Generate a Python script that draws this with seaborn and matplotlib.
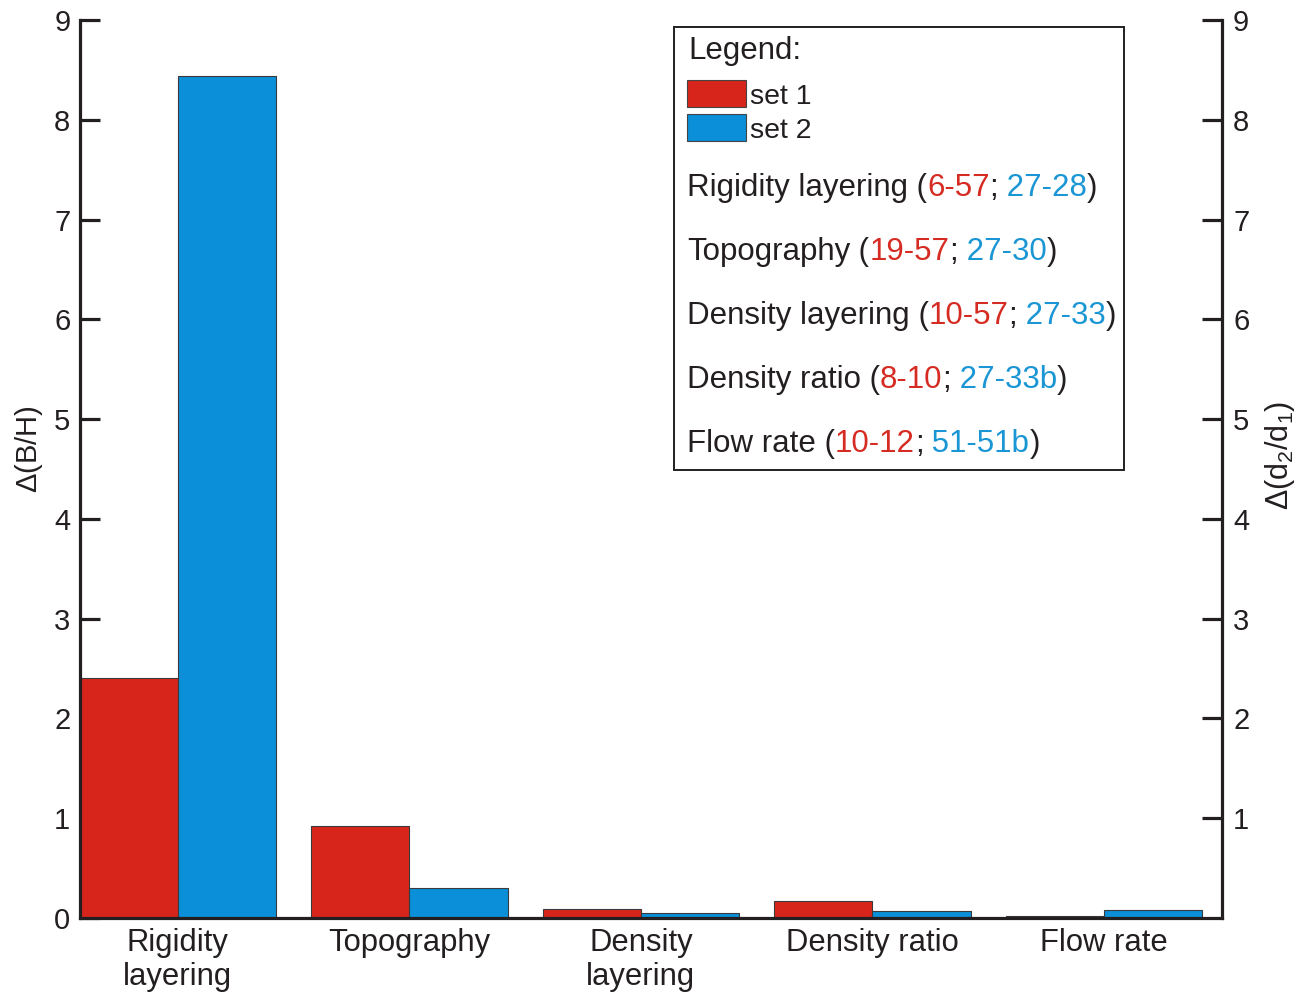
import numpy as np
import pandas as pd
import seaborn as sns
import matplotlib
matplotlib.use("Agg")
import matplotlib.pyplot as plt
from matplotlib.patches import Rectangle

# ---- data -------------------------------------------------------------
categories = ["Rigidity\nlayering", "Topography", "Density\nlayering",
              "Density ratio", "Flow rate"]
series_names = ["set 1", "set 2"]
set1_values = [2.41, 0.92, 0.09, 0.17, 0.02]
set2_values = [8.44, 0.30, 0.05, 0.07, 0.08]
left_ticks = [0, 1, 2, 3, 4, 5, 6, 7, 8, 9]
right_ticks = [1, 2, 3, 4, 5, 6, 7, 8, 9]

# legend lines: (parameter, set-1 runs, set-2 runs)
legend_params = ["Rigidity layering", "Topography", "Density layering",
                 "Density ratio", "Flow rate"]
legend_set1_runs = ["6-57", "19-57", "10-57", "8-10", "10-12"]
legend_set2_runs = ["27-28", "27-30", "27-33", "27-33b", "51-51b"]

# ---- style ------------------------------------------------------------
RED = "#D8251C"
BLUE = "#0A8FD8"
RED_TXT = "#D62B22"
BLUE_TXT = "#1A96D4"
INK = "#231F20"

sns.set_theme(style="white")
plt.rcParams["font.family"] = ["Liberation Sans", "DejaVu Sans"]
plt.rcParams["mathtext.fontset"] = "custom"
plt.rcParams["mathtext.rm"] = "Liberation Sans"
plt.rcParams["mathtext.it"] = "Liberation Sans"

W, H = 1314, 994
fig = plt.figure(figsize=(W / 100, H / 100), dpi=100)
fig.patch.set_facecolor("white")


def fx(x):
    return x / W


def fy(y):
    return 1 - y / H


ax_left, ax_right, ax_top, ax_bottom = 80, 1222, 20, 918
ax = fig.add_axes([fx(ax_left), fy(ax_bottom),
                   (ax_right - ax_left) / W, (ax_bottom - ax_top) / H])

df = pd.DataFrame({
    "category": categories * 2,
    "set": [series_names[0]] * len(categories) + [series_names[1]] * len(categories),
    "value": set1_values + set2_values,
})

sns.barplot(data=df, x="category", y="value", hue="set", order=categories,
            hue_order=series_names, palette=[RED, BLUE], width=0.85, gap=0,
            saturation=1, edgecolor="#3A3A3A", linewidth=0.8, legend=False,
            ax=ax)

ax.set_xlim(-0.423, 4.51)
ax.set_ylim(0, 9)
ax.set_yticks(left_ticks)
ax.set_xlabel("")
ax.set_ylabel(r"$\Delta$(B/H)", fontsize=21, color=INK)
ax.yaxis.set_label_coords(-0.031, 0.522)

for side in ["top", "right"]:
    ax.spines[side].set_visible(False)
for side in ["left", "bottom"]:
    ax.spines[side].set_linewidth(2.3)
    ax.spines[side].set_color(INK)

ax.tick_params(axis="y", direction="in", length=14.5, width=2.3, color=INK,
               labelsize=21, labelcolor=INK, pad=7, left=True)
ax.tick_params(axis="x", length=0, labelsize=22.3, labelcolor=INK, pad=7.5)
for lab in ax.get_xticklabels():
    lab.set_linespacing(1.16)

# right-hand axis on the same scale
ax2 = ax.twinx()
ax2.set_ylim(0, 9)
ax2.set_yticks(right_ticks)
for side in ["top", "left", "bottom"]:
    ax2.spines[side].set_visible(False)
ax2.spines["right"].set_linewidth(2.3)
ax2.spines["right"].set_color(INK)
ax2.tick_params(axis="y", direction="in", length=14.5, width=2.3, color=INK,
                labelsize=21, labelcolor=INK, pad=8, right=True)
ax2.set_ylabel(r"$\Delta$(d$_2$/d$_1$)", fontsize=22, color=INK)
ax2.yaxis.set_label_coords(1.036, 0.515)
ax2.grid(False)
ax.grid(False)

# ---- legend box ---------------------------------------------------------
fig.add_artist(Rectangle((fx(674), fy(470)), (1124 - 674) / W, (470 - 27) / H,
                         transform=fig.transFigure, facecolor="white",
                         edgecolor=INK, linewidth=1.4, zorder=5))

LFS = 22.5
fig.text(fx(688), fy(59), "Legend:", fontsize=LFS, color=INK,
         va="baseline", ha="left", zorder=6)

swatch_colors = [RED, BLUE]
swatch_tops = [80, 114]
label_baselines = [104, 138]
for name, col, top, base in zip(series_names, swatch_colors, swatch_tops,
                                label_baselines):
    fig.add_artist(Rectangle((fx(687), fy(top + 27)), 59 / W, 27 / H,
                             transform=fig.transFigure, facecolor=col,
                             edgecolor="#444444", linewidth=0.8, zorder=6))
    fig.text(fx(750), fy(base), name, fontsize=20.5, color=INK,
             va="baseline", ha="left", zorder=6)

renderer = fig.canvas.get_renderer()
line_baselines = [196, 260, 324, 388, 452]
for param, r1, r2, base in zip(legend_params, legend_set1_runs,
                               legend_set2_runs, line_baselines):
    pieces = [(param, INK), (" (", INK), (r1, RED_TXT), (";", INK),
              (" " + r2, BLUE_TXT), (")", INK)]
    x = 687
    for s, c in pieces:
        t = fig.text(fx(x), fy(base), s, fontsize=LFS, color=c,
                     va="baseline", ha="left", zorder=6)
        x += t.get_window_extent(renderer).width

fig.savefig("out.png", dpi=100, facecolor="white")
